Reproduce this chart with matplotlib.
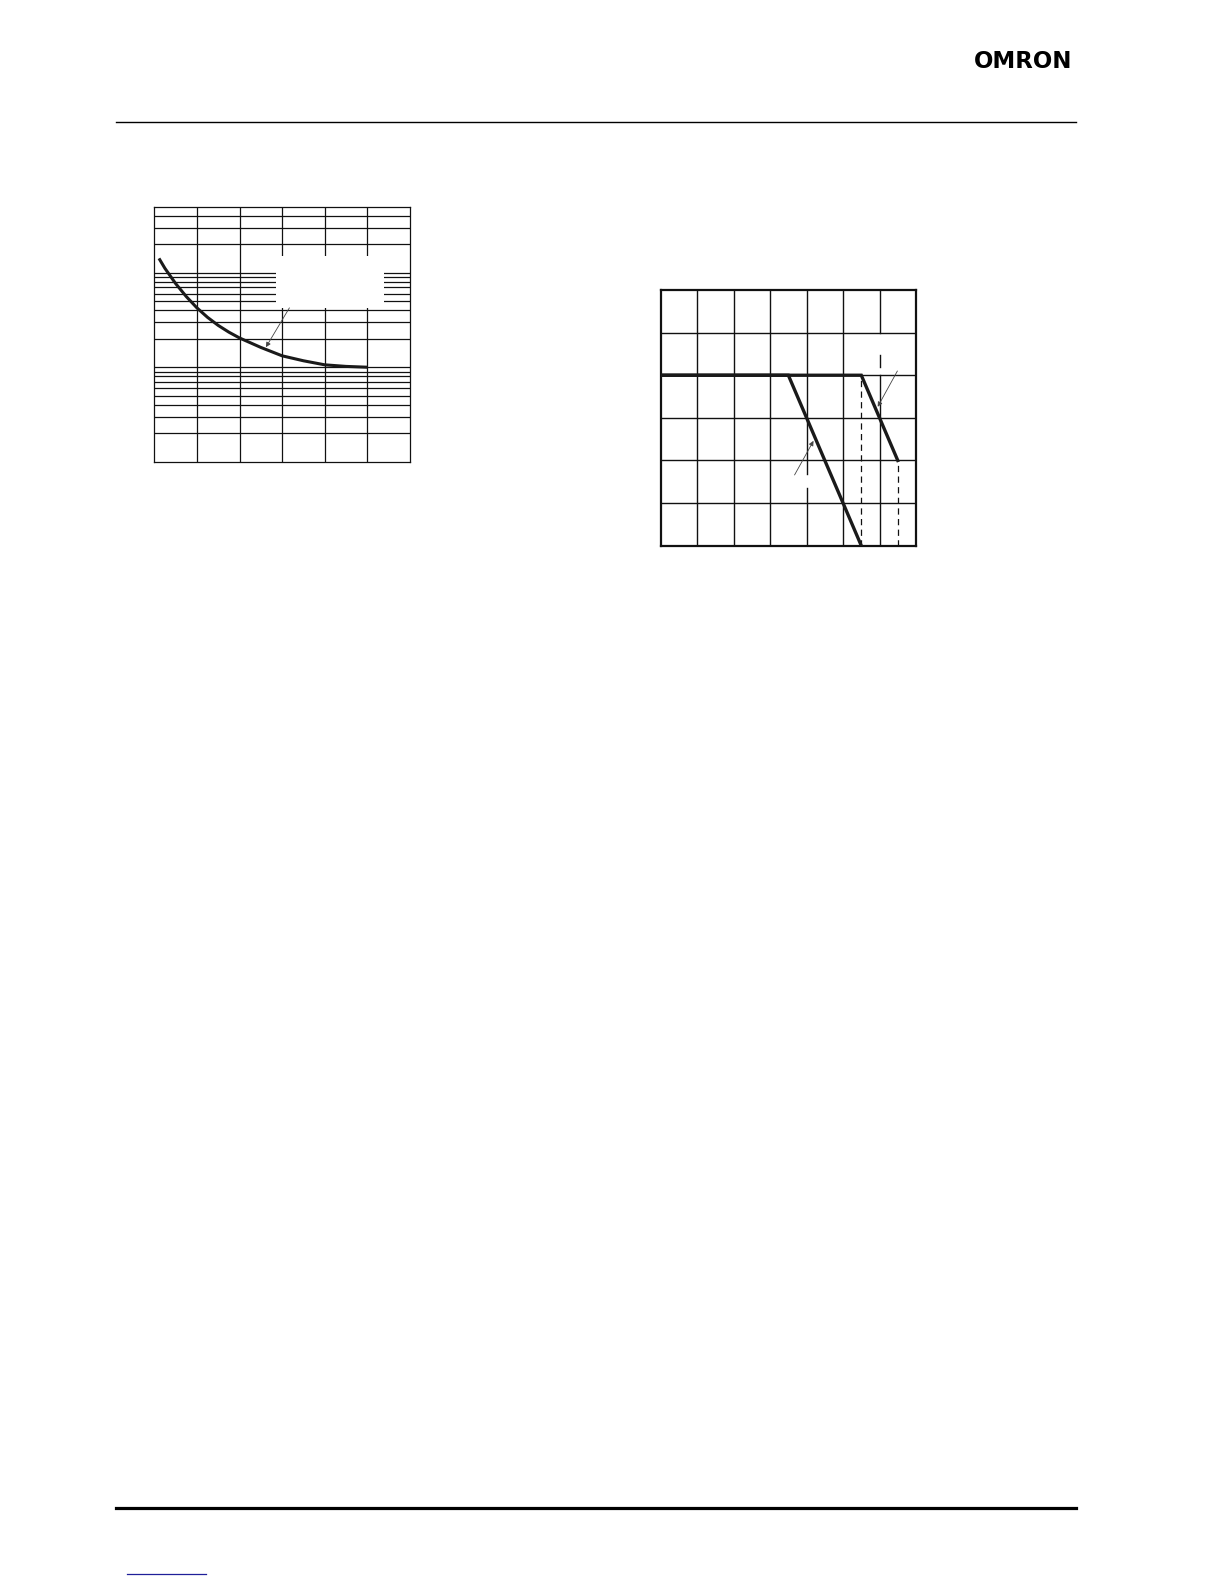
import matplotlib
matplotlib.use("Agg")
import matplotlib.pyplot as plt
from matplotlib.lines import Line2D
from matplotlib.patches import Rectangle

# ---------------- data ----------------
# left chart (log y, 6 linear x divisions)
left_x = [0.11, 0.25, 0.5, 0.75, 1.0, 1.25, 1.5, 1.75, 2.0, 2.5, 3.0, 3.5, 4.0, 4.5, 5.0]
left_y = [141.9, 111.2, 76.9, 56.0, 42.5, 33.7, 27.7, 23.5, 20.4, 16.2, 13.2, 11.7, 10.6, 10.2, 10.0]
left_xlim = [0, 6]
left_ylim = [1, 500]
left_arrow = [(3.17, 42.5), (2.62, 16.3)]   # tail, tip
left_blank = [2.855, 42.5, 5.40, 150]        # masked label region x0,y0,x1,y1

# right chart (linear grid 7 x 6)
curveA_x = [0, 3.5, 5.5]
curveA_y = [4, 4, 0]
curveB_x = [0, 5.5, 6.5]
curveB_y = [4, 4, 2]
dash_x = [5.5, 6.5]
dash_top = [4, 2]
right_xlim = [0, 7]
right_ylim = [0, 6]
arrowA = [(3.67, 1.66), (4.19, 2.46)]
arrowB = [(6.49, 4.10), (5.95, 3.26)]
# gridline gaps (x position, y0, y1)
right_gaps = [(6, 4.47, 5.0), (6, 4.0, 4.2), (4, 1.35, 1.68)]

W, H = 1224, 1584
fig = plt.figure(figsize=(W / 100, H / 100), dpi=100)
fig.patch.set_facecolor("white")

# ---------------- page decorations ----------------
fig.add_artist(Line2D([116 / W, 1076 / W], [1 - 122.3 / H] * 2, color="black", lw=1.0))
fig.add_artist(Line2D([116 / W, 1076 / W], [1 - 1508.3 / H] * 2, color="black", lw=2.3))
fig.add_artist(Line2D([126.7 / W, 206 / W], [1 - 1574.3 / H] * 2, color="#1f1f99", lw=0.9))
fig.text(1072 / W, 1 - 67.5 / H, "OMRON", ha="right", va="baseline",
         fontsize=16.5, fontweight="bold", family="DejaVu Sans", color="black")

gcol = "#111111"

# ---------------- left chart ----------------
axL = fig.add_axes([154.3 / W, 1 - 461.7 / H, 255.7 / W, 255 / H])
axL.set_yscale("log")
axL.set_xlim(left_xlim)
axL.set_ylim(left_ylim)
axL.set_xticks([])
axL.set_yticks([])
axL.minorticks_off()
for xv in range(1, 6):
    axL.axvline(xv, color=gcol, lw=0.9, zorder=1)
for dec in [1, 10, 100]:
    for m in range(1, 10):
        v = dec * m
        if left_ylim[0] < v < left_ylim[1]:
            axL.axhline(v, color=gcol, lw=0.9, zorder=1)
bx0, by0, bx1, by1 = left_blank
axL.add_patch(Rectangle((bx0, by0), bx1 - bx0, by1 - by0, facecolor="white",
                        edgecolor="none", zorder=2))
axL.plot(left_x, left_y, color="#1a1a1a", lw=2.2, zorder=3, solid_capstyle="butt")
axL.annotate("", xy=left_arrow[1], xytext=left_arrow[0],
             arrowprops=dict(arrowstyle="-|>", color="#444444", lw=0.6,
                             mutation_scale=7, shrinkA=0, shrinkB=0), zorder=4)
for s in axL.spines.values():
    s.set_linewidth(0.9)
    s.set_color(gcol)

# ---------------- right chart ----------------
axR = fig.add_axes([660.7 / W, 1 - 545.7 / H, 255.3 / W, 255.7 / H])
axR.set_xlim(right_xlim)
axR.set_ylim(right_ylim)
axR.set_xticks([])
axR.set_yticks([])
for yv in range(1, 6):
    axR.axhline(yv, color=gcol, lw=1.0, zorder=1)
for xv in range(1, 7):
    segs = [(0, 6)]
    for gx, g0, g1 in right_gaps:
        if gx == xv:
            new = []
            for a, b in segs:
                if g1 <= a or g0 >= b:
                    new.append((a, b))
                else:
                    if a < g0:
                        new.append((a, g0))
                    if g1 < b:
                        new.append((g1, b))
            segs = new
    for a, b in segs:
        axR.plot([xv, xv], [a, b], color=gcol, lw=1.0, zorder=1)
for dx, dt in zip(dash_x, dash_top):
    axR.plot([dx, dx], [0, dt], color=gcol, lw=0.9, ls=(0, (5, 3.5)), zorder=2)
axR.plot(curveB_x, curveB_y, color="#1a1a1a", lw=2.4, zorder=3, solid_joinstyle="miter")
axR.plot(curveA_x, curveA_y, color="#1a1a1a", lw=2.4, zorder=3, solid_joinstyle="miter")
for arr in (arrowA, arrowB):
    axR.annotate("", xy=arr[1], xytext=arr[0],
                 arrowprops=dict(arrowstyle="-|>", color="#444444", lw=0.6,
                                 mutation_scale=7, shrinkA=0, shrinkB=0), zorder=4)
for s in axR.spines.values():
    s.set_linewidth(1.6)
    s.set_color(gcol)

fig.savefig("out.png", dpi=100, facecolor="white")
